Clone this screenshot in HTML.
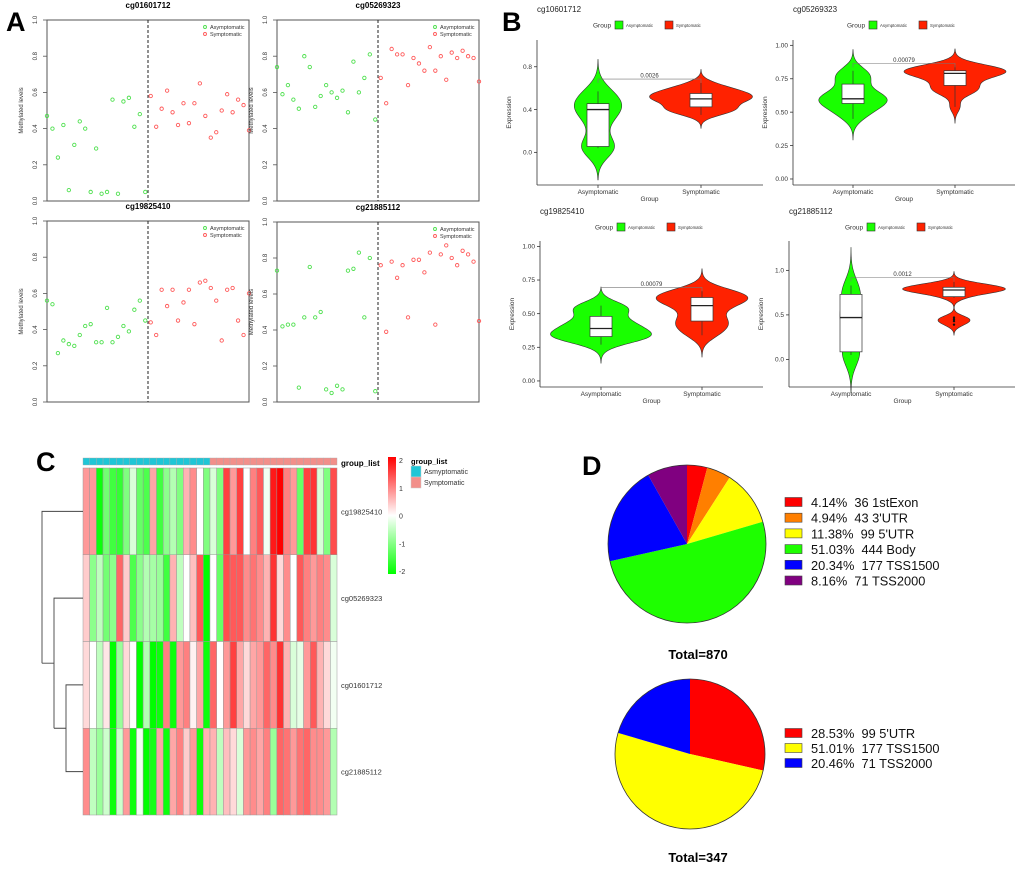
<!DOCTYPE html>
<html><head><meta charset="utf-8">
<style>
html,body{margin:0;padding:0;background:#fff;}
svg{display:block;font-family:"Liberation Sans",Arial,sans-serif;}
</style></head>
<body>
<svg id="fig" width="1020" height="869" viewBox="0 0 1020 869" xmlns="http://www.w3.org/2000/svg">
<rect x="0" y="0" width="1020" height="869" fill="#fff"/>
<text x="6" y="31" font-size="27" font-weight="bold">A</text>
<text x="502" y="31" font-size="27" font-weight="bold">B</text>
<text x="36" y="471" font-size="27" font-weight="bold">C</text>
<text x="582" y="475" font-size="27" font-weight="bold">D</text>
</svg>
<script>
// ---------- DATA ----------
const probeNames = ["cg01601712","cg05269323","cg19825410","cg21885112"];
const violinTitles = ["cg10601712","cg05269323","cg19825410","cg21885112"];
const asymVals = [
 [0.47,0.40,0.24,0.42,0.06,0.31,0.44,0.40,0.05,0.29,0.04,0.05,0.56,0.04,0.55,0.57,0.41,0.48,0.05],
 [0.74,0.59,0.64,0.56,0.51,0.80,0.74,0.52,0.58,0.64,0.60,0.57,0.61,0.49,0.77,0.60,0.68,0.81,0.45],
 [0.56,0.54,0.27,0.34,0.32,0.31,0.37,0.42,0.43,0.33,0.33,0.52,0.33,0.36,0.42,0.39,0.51,0.56,0.45],
 [0.73,0.42,0.43,0.43,0.08,0.47,0.75,0.47,0.50,0.07,0.05,0.09,0.07,0.73,0.74,0.83,0.47,0.80,0.06]
];
const symVals = [
 [0.58,0.41,0.51,0.61,0.49,0.42,0.54,0.43,0.54,0.65,0.47,0.35,0.38,0.50,0.59,0.49,0.56,0.53,0.39],
 [0.68,0.54,0.84,0.81,0.81,0.64,0.79,0.76,0.72,0.85,0.72,0.80,0.67,0.82,0.79,0.83,0.80,0.79,0.66],
 [0.44,0.37,0.62,0.53,0.62,0.45,0.55,0.62,0.43,0.66,0.67,0.63,0.56,0.34,0.62,0.63,0.45,0.37,0.60],
 [0.76,0.39,0.78,0.69,0.76,0.47,0.79,0.79,0.72,0.83,0.43,0.82,0.87,0.80,0.76,0.84,0.82,0.78,0.45]
];
const scatterTicks = [0,0.2,0.4,0.6,0.8,1.0];
const violinTicks = [[0.0,0.4,0.8],[0.00,0.25,0.50,0.75,1.00],[0.00,0.25,0.50,0.75,1.00],[0.0,0.5,1.0]];
const violinTickLabels = [["0.0","0.4","0.8"],["0.00","0.25","0.50","0.75","1.00"],["0.00","0.25","0.50","0.75","1.00"],["0.0","0.5","1.0"]];
const violinDomains = [[-0.305,1.05],[-0.045,1.04],[-0.045,1.04],[-0.31,1.33]];
const pValues = ["0.0026","0.00079","0.00079","0.0012"];
const bracketVals = [0.685,0.865,0.695,0.92];
const groups = ["Asymptomatic","Symptomatic"];

const heatRowNames = ["cg19825410","cg05269323","cg01601712","cg21885112"];
const heatRow1 = [0.8,0.8,-1.9,-1.1,-1.5,-1.6,-1.0,-0.3,-1.2,-1.4,0.7,-1.5,-0.9,-0.6,-1.0,0.6,0.9,0.0,-1.0, -0.3,-1.0,1.5,0.8,1.5,0.0,1.0,1.3,-0.1,1.8,2.0,1.0,0.8,-1.2,1.5,1.6,-0.3,-1.0,1.4];
const heatRow2 = [0.4,-0.9,-0.5,-1.1,-0.9,1.2,0.4,-1.4,-0.9,-0.6,-0.7,-0.8,-1.5,0.6,-0.5,0.0,0.5,1.3,-2.0, 0.0,-1.2,1.4,1.3,1.3,0.9,1.1,0.9,0.6,1.6,0.3,0.9,0.0,1.3,1.0,0.8,1.0,0.9,-0.3];
const heatRow3 = [0.3,0.0,-0.5,0.2,-2.0,-0.8,0.3,0.0,-2.0,-0.6,-2.0,-1.9,1.0,-1.9,0.8,1.0,0.1,0.7,-1.9, 1.2,0.0,0.8,1.5,0.7,0.3,0.7,0.8,1.2,0.9,1.6,0.6,-0.3,-0.2,0.8,1.3,0.6,0.3,-0.1];
const heatRow4 = [0.9,-0.5,-0.8,-0.4,-1.9,-0.4,0.8,-1.9,-0.1,-2.0,-1.8,0.7,-1.9,0.7,1.0,0.4,0.8,-1.9,0.6, 0.6,-0.5,0.5,0.3,-0.3,0.8,0.9,0.7,1.0,-0.8,1.2,1.1,0.8,1.1,1.2,0.9,0.9,0.8,-0.6];
const heatGroupCounts = [19,19];
const colorbarTicks = [2,1,0,-1,-2];

const pie1Labels = ["36 1stExon","43 3'UTR","99 5'UTR","444 Body","177 TSS1500","71 TSS2000"];
const pie1Counts = [36,43,99,444,177,71];
const pie1Pct = ["4.14%","4.94%","11.38%","51.03%","20.34%","8.16%"];
const pie1Colors = ["#ff0000","#ff7f00","#ffff00","#1eff00","#0000ff","#800080"];
const pie2Labels = ["99 5'UTR","177 TSS1500","71 TSS2000"];
const pie2Counts = [99,177,71];
const pie2Pct = ["28.53%","51.01%","20.46%"];
const pie2Colors = ["#ff0000","#ffff00","#0000ff"];

// ---------- HELPERS ----------
const NS='http://www.w3.org/2000/svg';
const svg=document.getElementById('fig');
function mk(tag, attrs, parent){const e=document.createElementNS(NS,tag);for(const k in attrs)e.setAttribute(k,attrs[k]);(parent||svg).appendChild(e);return e;}
function txt(s, attrs, parent){const e=mk('text',attrs,parent);e.textContent=s;return e;}
function quantile(a,p){const s=[...a].sort((x,y)=>x-y);const h=(s.length-1)*p;const lo=Math.floor(h);return s[lo]+(h-lo)*((s[lo+1]===undefined?s[lo]:s[lo+1])-s[lo]);}
function sd(a){const m=a.reduce((x,y)=>x+y,0)/a.length;return Math.sqrt(a.reduce((x,y)=>x+(y-m)*(y-m),0)/(a.length-1));}
function bwNrd0(a){const iqr=quantile(a,0.75)-quantile(a,0.25);const lo=Math.min(sd(a),iqr/1.34)||sd(a);return 0.9*lo*Math.pow(a.length,-0.2);}
function kde(a,bw,x){let s=0;for(const v of a){const z=(x-v)/bw;s+=Math.exp(-0.5*z*z);}return s/(a.length*bw*Math.sqrt(2*Math.PI));}

// ---------- PANEL A: scatter ----------
const aBoxes=[[47,249,20,201],[277,479,20,201],[47,249,221,402],[277,479,222,402]];
for(let p=0;p<4;p++){
  const [x0,x1,y0,y1]=aBoxes[p];
  const g=mk('g',{});
  
  
  const n=asymVals[p].length+symVals[p].length;
  const xS=i=>x0+i*(x1-x0)/(n-1);
  const yS=v=>y1-v*(y1-y0);
  const fr=mk('rect',{x:x0,y:y0,width:x1-x0,height:y1-y0,fill:'none',stroke:'#555','stroke-width':1},g);
  
  
  const t=txt(probeNames[p],{x:(x0+x1)/2,y:y0-12,'font-size':8,'font-weight':'bold','text-anchor':'middle'},g);
  
  
  for(const tv of scatterTicks){
    const ty=yS(tv);
    mk('line',{x1:x0-4,x2:x0,y1:ty,y2:ty,stroke:'#555','stroke-width':0.8},g);
    const tl=txt(tv.toFixed(1),{x:x0-10,y:ty,'font-size':6,'text-anchor':'middle',transform:`rotate(-90 ${x0-10} ${ty})`,fill:'#333'},g);
    
    
  }
  const yl=txt('Methylated levels',{x:x0-24,y:(y0+y1)/2,'font-size':6,'text-anchor':'middle',transform:`rotate(-90 ${x0-24} ${(y0+y1)/2})`,fill:'#333'},g);
  
  
  const dx=xS(asymVals[p].length-0.5);
  const dl=mk('line',{x1:dx,x2:dx,y1:y0,y2:y1,stroke:'#222','stroke-width':1,'stroke-dasharray':'3,2'},g);
  
  
  asymVals[p].forEach((v,i)=>{
    const c=mk('circle',{cx:xS(i),cy:yS(v),r:1.7,fill:'none',stroke:'#4ee04e','stroke-width':0.9},g);
    
    
  });
  symVals[p].forEach((v,i)=>{
    const c=mk('circle',{cx:xS(asymVals[p].length+i),cy:yS(v),r:1.7,fill:'none',stroke:'#ff5a5a','stroke-width':0.9},g);
    
    
  });
  const lc=['#4ee04e','#ff5a5a'];
  groups.forEach((gname,k)=>{
    const ly=y0+7+k*7;
    mk('circle',{cx:x0+158,cy:ly,r:1.5,fill:'none',stroke:lc[k],'stroke-width':0.9},g);
    const lt=txt(gname,{x:x0+163,y:ly+2,'font-size':5.5,fill:'#333'},g);
    
    
  });
}

// ---------- PANEL B: violins ----------
const bAxes=[
 {ax:537,top:40,bot:185,right:763,cx:[598,701],ty:12,ly:25,gx:593},
 {ax:793,top:40,bot:185,right:1015,cx:[853,955],ty:12,ly:25,gx:847},
 {ax:540,top:241,bot:387,right:763,cx:[601,702],ty:214,ly:227,gx:595},
 {ax:789,top:241,bot:387,right:1015,cx:[851,954],ty:214,ly:227,gx:845}
];
const vFill=['#19ff00','#ff2200'];
for(let p=0;p<4;p++){
  const A=bAxes[p];
  const [d0,d1]=violinDomains[p];
  const yS=v=>A.bot-(v-d0)/(d1-d0)*(A.bot-A.top);
  const g=mk('g',{});
  
  
  const t=txt(violinTitles[p],{x:A.ax,y:A.ty,'font-size':8,fill:'#222'},g);
  
  
  txt('Group',{x:A.gx,y:A.ly+2.5,'font-size':6.5,fill:'#333'},g);
  const lx=[A.gx+22,A.gx+72];
  groups.forEach((gn,k)=>{
    const r=mk('rect',{x:lx[k],y:A.ly-4,width:8,height:8,fill:vFill[k],stroke:'#333','stroke-width':0.6},g);
    
    
    txt(gn,{x:lx[k]+11,y:A.ly+2,'font-size':4.3,fill:'#333'},g);
  });
  mk('line',{x1:A.ax,x2:A.ax,y1:A.top,y2:A.bot,stroke:'#333','stroke-width':0.8},g);
  mk('line',{x1:A.ax,x2:A.right,y1:A.bot,y2:A.bot,stroke:'#333','stroke-width':0.8},g);
  violinTicks[p].forEach((tv,i)=>{
    const ty=yS(tv);
    mk('line',{x1:A.ax-3,x2:A.ax,y1:ty,y2:ty,stroke:'#333','stroke-width':0.8},g);
    const tl=txt(violinTickLabels[p][i],{x:A.ax-5,y:ty+2.2,'font-size':6.5,'text-anchor':'end',fill:'#333'},g);
    
    
  });
  const yl=txt('Expression',{x:A.ax-26,y:(A.top+A.bot)/2,'font-size':6.5,'text-anchor':'middle',transform:`rotate(-90 ${A.ax-26} ${(A.top+A.bot)/2})`,fill:'#333'},g);
  
  
  groups.forEach((gn,k)=>{
    mk('line',{x1:A.cx[k],x2:A.cx[k],y1:A.bot,y2:A.bot+3,stroke:'#333','stroke-width':0.8},g);
    const xl=txt(gn,{x:A.cx[k],y:A.bot+9,'font-size':6.5,'text-anchor':'middle',fill:'#333'},g);
    
    
  });
  const xt=txt('Group',{x:(A.cx[0]+A.cx[1])/2,y:A.bot+16,'font-size':6.5,'text-anchor':'middle',fill:'#333'},g);
  
  
  const sets=[asymVals[p],symVals[p]];
  const dens=sets.map(a=>{
    const bw=bwNrd0(a);const lo=Math.min(...a)-3*bw,hi=Math.max(...a)+3*bw;
    const pts=[];for(let i=0;i<=80;i++){const v=lo+(hi-lo)*i/80;pts.push([v,kde(a,bw,v)]);}
    return pts;
  });
  const maxD=Math.max(...dens.flat().map(q=>q[1]));
  const halfMax=(A.cx[1]-A.cx[0])*0.5;
  sets.forEach((a,k)=>{
    const pts=dens[k];const cx=A.cx[k];
    let d='M'+pts.map(q=>`${(cx+q[1]/maxD*halfMax).toFixed(2)},${yS(q[0]).toFixed(2)}`).join(' L');
    d+=' L'+pts.slice().reverse().map(q=>`${(cx-q[1]/maxD*halfMax).toFixed(2)},${yS(q[0]).toFixed(2)}`).join(' L')+'Z';
    const v=mk('path',{d:d,fill:vFill[k],stroke:'#333','stroke-width':0.6},g);
    
    
    const q1=quantile(a,0.25),q2=quantile(a,0.5),q3=quantile(a,0.75),iqr=q3-q1;
    const inr=a.filter(x=>x>=q1-1.5*iqr&&x<=q3+1.5*iqr);
    const wlo=Math.min(...inr),whi=Math.max(...inr);
    const bw2=11;
    mk('line',{x1:cx,x2:cx,y1:yS(whi),y2:yS(q3),stroke:'#333','stroke-width':0.7},g);
    mk('line',{x1:cx,x2:cx,y1:yS(q1),y2:yS(wlo),stroke:'#333','stroke-width':0.7},g);
    const b=mk('rect',{x:cx-bw2,y:yS(q3),width:2*bw2,height:yS(q1)-yS(q3),fill:'#fff',stroke:'#333','stroke-width':0.7},g);
    
    
    mk('line',{x1:cx-bw2,x2:cx+bw2,y1:yS(q2),y2:yS(q2),stroke:'#222','stroke-width':1.3},g);
    a.filter(x=>x<q1-1.5*iqr||x>q3+1.5*iqr).forEach(o=>{
      const oc=mk('circle',{cx:cx,cy:yS(o),r:1.2,fill:'#111'},g);
      
      
    });
  });
  const by=yS(bracketVals[p]);
  const br=mk('path',{d:`M${A.cx[0]},${by+4} L${A.cx[0]},${by} L${A.cx[1]},${by} L${A.cx[1]},${by+4}`,fill:'none',stroke:'#777','stroke-width':0.6},g);
  
  
  const pv=txt(pValues[p],{x:(A.cx[0]+A.cx[1])/2,y:by-1.5,'font-size':6,'text-anchor':'middle',fill:'#333'},g);
  
  
}

// ---------- PANEL C: heatmap ----------
const heatVals=[heatRow1,heatRow2,heatRow3,heatRow4];
function heatColor(v){
  const t=Math.max(-2,Math.min(2,v))/2;
  if(t>=0){const c=Math.round(255*(1-t));return `rgb(255,${c},${c})`;}
  const c=Math.round(255*(1+t));return `rgb(${c},255,${c})`;
}
(function(){
  const x0=83,x1=337,y0=468,y1=815,ay0=458,ay1=465;
  const nC=heatRow1.length, cw=(x1-x0)/nC, rh=(y1-y0)/heatVals.length;
  const g=mk('g',{});
  
  
  const annCols=['#1fc6d6','#f28f8a'];
  let col=0;
  heatGroupCounts.forEach((cnt,k)=>{
    for(let i=0;i<cnt;i++){
      const r=mk('rect',{x:x0+col*cw,y:ay0,width:cw,height:ay1-ay0,fill:annCols[k],stroke:'#aaa','stroke-width':0.4},g);
      
      
      col++;
    }
  });
  const al=txt('group_list',{x:x1+4,y:ay1+1,'font-size':8,'font-weight':'bold'},g);
  
  
  heatVals.forEach((row,ri)=>{
    row.forEach((v,ci)=>{
      const r=mk('rect',{x:x0+ci*cw,y:y0+ri*rh,width:cw,height:rh,fill:heatColor(v),stroke:'#999','stroke-width':0.5},g);
      
      
    });
    const rl=txt(heatRowNames[ri],{x:x1+4,y:y0+ri*rh+rh/2+3,'font-size':7.5,fill:'#333'},g);
    
    
  });
  const rc=i=>y0+rh*(i+0.5);
  const n2y=(rc(2)+rc(3))/2, n1y=(rc(1)+n2y)/2;
  const dd=`M${x0},${rc(2)} H66 V${rc(3)} H${x0} M66,${n2y} H54 M${x0},${rc(1)} H54 V${n2y} M54,${n1y} H42 M${x0},${rc(0)} H42 V${n1y}`;
  const dp=mk('path',{d:dd,fill:'none',stroke:'#444','stroke-width':0.9},g);
  
  
  const cb=mk('defs',{},g);
  const lg=mk('linearGradient',{id:'cbg',x1:0,y1:0,x2:0,y2:1},cb);
  mk('stop',{offset:'0','stop-color':heatColor(2)},lg);
  mk('stop',{offset:'0.5','stop-color':heatColor(0)},lg);
  mk('stop',{offset:'1','stop-color':heatColor(-2)},lg);
  const cbr=mk('rect',{x:388,y:457,width:8,height:117,fill:'url(#cbg)'},g);
  
  
  colorbarTicks.forEach(tv=>{
    const ty=457+3+(2-tv)/4*111;
    const tl=txt(String(tv),{x:399,y:ty+3,'font-size':7,fill:'#333'},g);
    
    
  });
  const lt=txt('group_list',{x:411,y:464,'font-size':7.5,'font-weight':'bold'},g);
  
  
  const legNames=['Asmyptomatic','Symptomatic'];
  legNames.forEach((nm,k)=>{
    const r=mk('rect',{x:411,y:466+k*11,width:10,height:11,fill:annCols[k],stroke:'#ccc','stroke-width':0.5},g);
    
    
    const tt=txt(nm,{x:424,y:474+k*11,'font-size':7,fill:'#333'},g);
    
    
  });
})();

// ---------- PANEL D: pies ----------
function pie(cx,cy,r,counts,colors,name){
  const g=mk('g',{});
  
  
  const tot=counts.reduce((a,b)=>a+b,0);
  let a0=0;
  counts.forEach((c,i)=>{
    const a1=a0+c/tot*2*Math.PI;
    const xa=cx+r*Math.sin(a0),ya=cy-r*Math.cos(a0),xb=cx+r*Math.sin(a1),yb=cy-r*Math.cos(a1);
    const large=(a1-a0)>Math.PI?1:0;
    const s=mk('path',{d:`M${cx},${cy} L${xa},${ya} A${r},${r} 0 ${large} 1 ${xb},${yb} Z`,fill:colors[i],stroke:'none'},g);
    
    
    a0=a1;
  });
  mk('circle',{cx:cx,cy:cy,r:r,fill:'none',stroke:'#333','stroke-width':0.8},g);
}
function pieLegend(x,y0,dy,pcts,labels,colors,name){
  const g=mk('g',{});
  
  
  labels.forEach((l,i)=>{
    const y=y0+i*dy;
    const r=mk('rect',{x:x,y:y-4.5,width:17,height:9,fill:colors[i],stroke:'#444','stroke-width':0.6},g);
    
    
    const t=txt(pcts[i]+'\u00a0\u00a0'+l,{x:x+26,y:y+5,'font-size':12.8,fill:'#111'},g);
    
    
  });
}
pie(687,544,79,pie1Counts,pie1Colors,'pie-chart-all');
pieLegend(785,502,15.7,pie1Pct,pie1Labels,pie1Colors,'pie-legend-all');
const t1=txt('Total=870',{x:698,y:659,'font-size':13,'font-weight':'bold','text-anchor':'middle'});


pie(690,754,75,pie2Counts,pie2Colors,'pie-chart-promoter');
pieLegend(785,733,15,pie2Pct,pie2Labels,pie2Colors,'pie-legend-promoter');
const t2=txt('Total=347',{x:698,y:862,'font-size':13,'font-weight':'bold','text-anchor':'middle'});


</script>
</body></html>
